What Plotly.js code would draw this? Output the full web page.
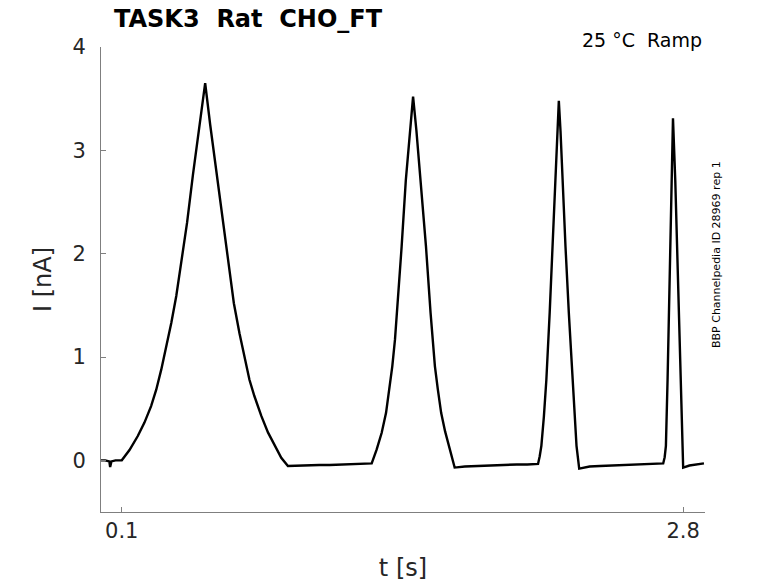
<!DOCTYPE html>
<html>
<head>
<meta charset="utf-8">
<script src="https://cdn.plot.ly/plotly-3.0.1.min.js"></script>
<style>html,body{margin:0;padding:0;background:#fff;}#chart{width:778px;height:583px;}</style>
</head>
<body>
<div id="chart"></div>
<script>
// time [s]
var tValues = [0, 0.02, 0.04, 0.044, 0.05, 0.07, 0.1, 0.137, 0.177, 0.209, 0.241, 0.266, 0.290, 0.314, 0.338, 0.362, 0.386, 0.414, 0.442, 0.474, 0.501, 0.525, 0.5575, 0.588, 0.618, 0.639, 0.666, 0.690, 0.714, 0.738, 0.771, 0.803, 0.835, 0.867, 0.899, 0.95, 1.0, 1.05, 1.1, 1.15, 1.2, 1.25, 1.302, 1.326, 1.350, 1.371, 1.387, 1.401, 1.414, 1.424, 1.446, 1.466, 1.485, 1.501, 1.517, 1.538, 1.563, 1.585, 1.595, 1.606, 1.620, 1.636, 1.655, 1.679, 1.701, 1.75, 1.8, 1.85, 1.9, 1.95, 2.0, 2.05, 2.102, 2.110, 2.118, 2.130, 2.142, 2.158, 2.171, 2.184, 2.193, 2.202, 2.210, 2.219, 2.234, 2.250, 2.268, 2.280, 2.287, 2.300, 2.35, 2.4, 2.45, 2.5, 2.55, 2.6, 2.65, 2.704, 2.711, 2.717, 2.725, 2.731, 2.736, 2.742, 2.751, 2.762, 2.770, 2.778, 2.786, 2.794, 2.800, 2.83, 2.86, 2.90];
// current [nA]
var iValues = [0, 0.0, -0.01, -0.065, -0.01, 0, 0, 0.10, 0.235, 0.365, 0.525, 0.686, 0.88, 1.10, 1.33, 1.59, 1.90, 2.30, 2.76, 3.25, 3.65, 3.25, 2.76, 2.30, 1.85, 1.52, 1.23, 1.01, 0.78, 0.62, 0.43, 0.27, 0.14, 0.025, -0.055, -0.05, -0.05, -0.045, -0.045, -0.04, -0.04, -0.035, -0.03, 0.106, 0.267, 0.46, 0.686, 0.91, 1.17, 1.43, 2.07, 2.71, 3.19, 3.52, 3.19, 2.71, 2.07, 1.43, 1.17, 0.91, 0.686, 0.46, 0.28, 0.106, -0.07, -0.06, -0.055, -0.05, -0.05, -0.045, -0.04, -0.04, -0.035, 0.04, 0.14, 0.42, 0.78, 1.43, 2.07, 2.71, 3.19, 3.48, 3.19, 2.71, 2.07, 1.43, 0.78, 0.40, 0.14, -0.08, -0.06, -0.055, -0.05, -0.045, -0.04, -0.04, -0.035, -0.03, 0.03, 0.14, 0.78, 1.43, 2.07, 2.71, 3.31, 2.71, 2.07, 1.43, 0.78, 0.14, -0.07, -0.05, -0.04, -0.03];
var xTickVals = [0.1, 2.8];
var xTickText = ["0.1", "2.8"];
var yTickVals = [0, 1, 2, 3, 4];
var yTickText = ["0", "1", "2", "3", "4"];

var trace = {
  x: tValues, y: iValues, type: 'scatter', mode: 'lines',
  line: {color: '#000000', width: 2.4}, hoverinfo: 'skip', showlegend: false
};

var axisCommon = {
  showgrid: false, zeroline: false, showline: true, linecolor: '#7f7f7f', linewidth: 1,
  ticks: 'inside', ticklen: 5, tickcolor: '#7f7f7f', tickwidth: 1,
  tickfont: {family: 'DejaVu Sans', size: 21, color: '#262626'}, mirror: false
};

var layout = {
  width: 778, height: 583,
  margin: {l: 101, r: 73, t: 47, b: 71},
  paper_bgcolor: '#ffffff', plot_bgcolor: '#ffffff',
  font: {family: 'DejaVu Sans', color: '#262626'},
  title: {
    text: 'TASK3\u00a0\u00a0Rat\u00a0\u00a0CHO_FT',
    font: {family: 'DejaVu Sans', size: 24, color: '#000000', weight: 'bold'},
    xref: 'container', x: 114/778, xanchor: 'left',
    yref: 'container', y: 1 - 18.5/583, yanchor: 'middle'
  },
  xaxis: Object.assign({}, axisCommon, {
    range: [0, 2.905], tickmode: 'array', tickvals: xTickVals, ticktext: xTickText,
    title: {text: 't [s]', font: {family: 'DejaVu Sans', size: 24, color: '#262626'}, standoff: 16}
  }),
  yaxis: Object.assign({}, axisCommon, {
    range: [-0.5, 4], tickmode: 'array', tickvals: yTickVals, ticktext: yTickText,
    ticklabelstandoff: 10,
    title: {text: 'I [nA]', font: {family: 'DejaVu Sans', size: 24, color: '#262626'}, standoff: 14}
  }),
  annotations: [
    {text: '25 °C\u00a0\u00a0Ramp', xref: 'paper', yref: 'paper', x: (704-101)/604, y: 1 + 7/465,
     xanchor: 'right', yanchor: 'middle', showarrow: false,
     font: {family: 'DejaVu Sans', size: 19, color: '#000000'}},
    {text: 'BBP Channelpedia ID 28969 rep 1', xref: 'paper', yref: 'paper', x: (717-101)/604, y: (512-255)/465,
     xanchor: 'center', yanchor: 'middle', textangle: -90, showarrow: false,
     font: {family: 'DejaVu Sans', size: 11, color: '#000000'}}
  ]
};

Plotly.newPlot('chart', [trace], layout, {staticPlot: true, displayModeBar: false});
</script>
</body>
</html>
